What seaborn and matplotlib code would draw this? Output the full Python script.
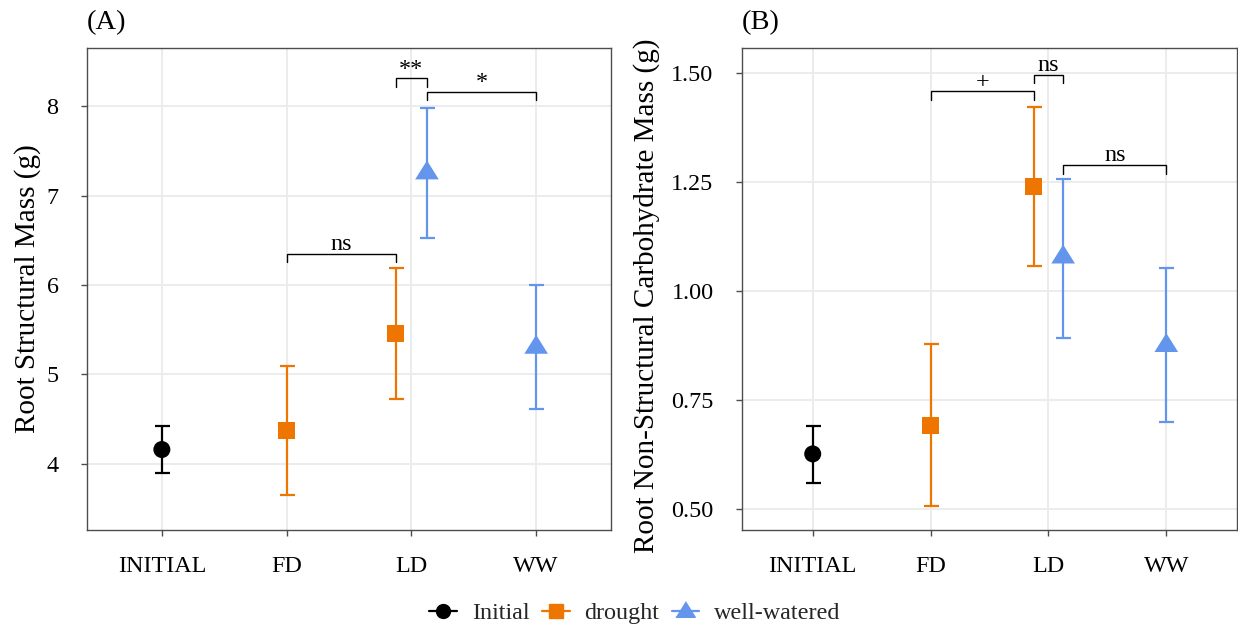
import numpy as np
import pandas as pd
import matplotlib
matplotlib.use("Agg")
import matplotlib.pyplot as plt
import seaborn as sns
from matplotlib.lines import Line2D

# ---------------- data ----------------
categories = ["INITIAL", "FD", "LD", "WW"]
point_cat = ["INITIAL", "FD", "LD", "LD", "WW"]
point_group = ["Initial", "drought", "drought", "well-watered", "well-watered"]

struct_mean = [4.16, 4.37, 5.46, 7.26, 5.31]
struct_lo = [3.90, 3.65, 4.73, 6.52, 4.61]
struct_hi = [4.42, 5.09, 6.19, 7.98, 6.00]

nsc_mean = [0.627, 0.693, 1.241, 1.080, 0.877]
nsc_lo = [0.561, 0.508, 1.059, 0.894, 0.700]
nsc_hi = [0.692, 0.878, 1.423, 1.258, 1.054]

struct_yticks = [4, 5, 6, 7, 8]
nsc_yticks = [0.50, 0.75, 1.00, 1.25, 1.50]

# (cat1, group1, cat2, group2, y, label)
struct_brackets = [
    ("FD", "drought", "LD", "drought", 6.35, "ns"),
    ("LD", "drought", "LD", "well-watered", 8.31, "**"),
    ("LD", "well-watered", "WW", "well-watered", 8.16, "*"),
]
nsc_brackets = [
    ("FD", "drought", "LD", "drought", 1.459, "+"),
    ("LD", "drought", "LD", "well-watered", 1.497, "ns"),
    ("LD", "well-watered", "WW", "well-watered", 1.290, "ns"),
]

groups = ["Initial", "drought", "well-watered"]
palette = {"Initial": "#000000", "drought": "#EE7600", "well-watered": "#6495ED"}
tri = [(-1.0, -0.6), (1.0, -0.6), (0.0, 1.0)]
markers = {"Initial": "o", "drought": "s", "well-watered": tri}
sizes = {"Initial": 150, "drought": 150, "well-watered": 290}

DODGE = 0.25


def xpos(cat, grp):
    members = [g for c, g in zip(point_cat, point_group) if c == cat]
    n = len(members)
    j = members.index(grp)
    return categories.index(cat) + (j - (n - 1) / 2) * DODGE


# ---------------- style ----------------
sns.set_theme(style="whitegrid")
plt.rcParams["font.family"] = ["Liberation Serif", "DejaVu Serif"]

fig = plt.figure(figsize=(12.38, 6.30), dpi=100)
W, H = 1238, 630
axA = fig.add_axes([87 / W, 100 / H, 524 / W, 482 / H])
axB = fig.add_axes([742 / W, 100 / H, 495 / W, 482 / H])

FRAME = "#4D4D4D"
TICKFS = 17.4


def draw(ax, means, lo, hi, ylim, yticks, yfmt, ylabel, brackets, label_xy, panel):
    df = pd.DataFrame({
        "cat": point_cat,
        "group": point_group,
        "mean": means,
        "lo": lo,
        "hi": hi,
    })
    df["x"] = [xpos(c, g) for c, g in zip(df["cat"], df["group"])]

    for _, r in df.iterrows():
        ax.errorbar(r["x"], r["mean"],
                    yerr=[[r["mean"] - r["lo"]], [r["hi"] - r["mean"]]],
                    fmt="none", ecolor=palette[r["group"]], elinewidth=1.6,
                    capsize=5.4, capthick=1.6, zorder=3)

    sns.scatterplot(data=df, x="x", y="mean", hue="group", style="group",
                    size="group", palette=palette, markers=markers, sizes=sizes,
                    hue_order=groups, style_order=groups, size_order=groups,
                    linewidth=0, legend=False, ax=ax, zorder=4)

    yr = ylim[1] - ylim[0]
    tip = 0.018 * yr
    for c1, g1, c2, g2, y, lab in brackets:
        x1, x2 = xpos(c1, g1), xpos(c2, g2)
        ax.plot([x1, x1, x2, x2], [y - tip, y, y, y - tip], color="black",
                lw=1.0, zorder=5, solid_joinstyle="miter")
        ax.annotate(lab, xy=((x1 + x2) / 2, y), xytext=(0, 2.5),
                    textcoords="offset points", ha="center", va="baseline",
                    fontsize=TICKFS, color="black")

    ax.set_xlim(-0.6, len(categories) - 0.4)
    ax.set_ylim(*ylim)
    ax.set_xticks(range(len(categories)))
    ax.set_xticklabels(categories)
    ax.set_yticks(yticks)
    ax.set_yticklabels([yfmt.format(v) for v in yticks])
    ax.set_xlabel("")
    ax.set_ylabel(ylabel, fontsize=21, color="black")
    ax.yaxis.set_label_coords(*label_xy)

    ax.set_facecolor("white")
    ax.grid(True, color="#EBEBEB", lw=1.3)
    ax.set_axisbelow(True)
    for s in ax.spines.values():
        s.set_visible(True)
        s.set_color(FRAME)
        s.set_linewidth(1.0)
    ax.tick_params(axis="both", which="major", direction="out", length=4.5,
                   width=1.0, color=FRAME, labelcolor="black",
                   labelsize=TICKFS, bottom=True, left=True)
    ax.tick_params(axis="y", pad=16)
    ax.tick_params(axis="x", pad=14)

    ax.text(0, 1.039, panel, transform=ax.transAxes, ha="left",
            va="baseline", fontsize=20.5, color="black")


draw(axA, struct_mean, struct_lo, struct_hi, (3.26, 8.65), struct_yticks,
     "{:g}", "Root Structural Mass (g)", struct_brackets, (-0.088, 0.5), "(A)")
draw(axB, nsc_mean, nsc_lo, nsc_hi, (0.4525, 1.558), nsc_yticks,
     "{:.2f}", "Root Non-Structural Carbohydrate Mass (g)", nsc_brackets,
     (-0.165, 0.487), "(B)")

handles = [
    Line2D([], [], color=palette["Initial"], marker="o", markersize=10, lw=1.6),
    Line2D([], [], color=palette["drought"], marker="s", markersize=10, lw=1.6),
    Line2D([], [], color=palette["well-watered"], marker=tri, markersize=14, lw=1.6),
]
fig.legend(handles, groups, loc="center", bbox_to_anchor=(635 / W, 17 / H),
           ncol=3, frameon=False, fontsize=TICKFS, handlelength=1.15,
           handletextpad=0.62, columnspacing=0.5)

fig.savefig("out.png", dpi=100, facecolor="white")
